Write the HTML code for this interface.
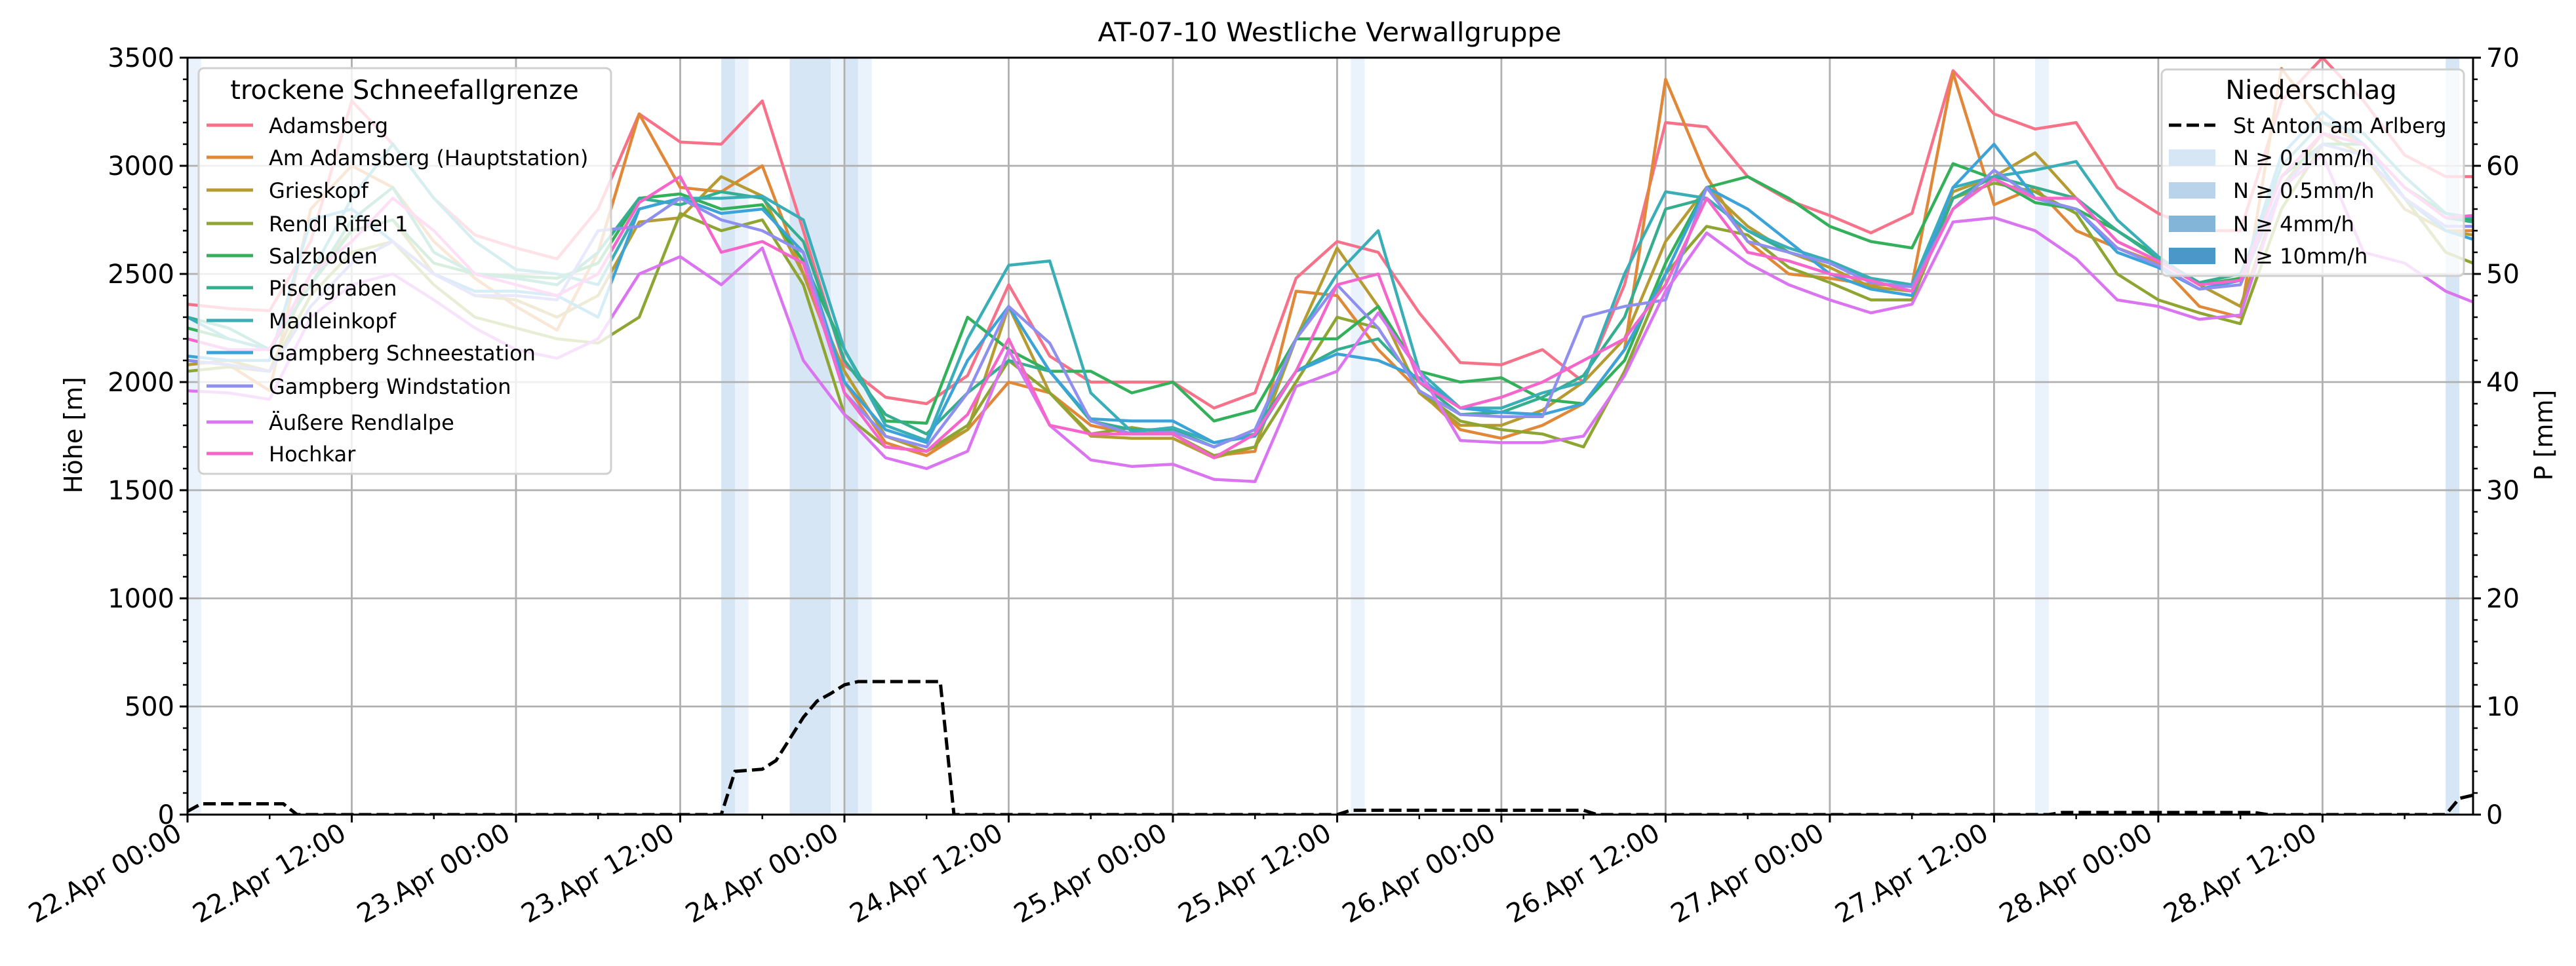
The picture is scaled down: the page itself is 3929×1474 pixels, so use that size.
<!DOCTYPE html>
<html><head><meta charset="utf-8"><style>
html,body{margin:0;padding:0;background:#fff}
svg{display:block;font-family:"DejaVu Sans","Liberation Sans",sans-serif}
</style></head><body>
<svg id="chart" width="3929" height="1474" viewBox="0 0 3929 1474" xmlns="http://www.w3.org/2000/svg">
<defs><clipPath id="plotclip"><rect x="286" y="88" width="3486" height="1155"/></clipPath></defs>
<rect x="0" y="0" width="3929" height="1474" fill="#fff"/>
<g id="bands" clip-path="url(#plotclip)"></g>
<g id="grid"></g>
<g id="series" clip-path="url(#plotclip)"></g>
<g id="precip" clip-path="url(#plotclip)"></g>
<g id="axes"></g>
<g id="legends"></g>
<text x="2028" y="63" font-size="40" text-anchor="middle" textLength="707" lengthAdjust="spacingAndGlyphs">AT-07-10 Westliche Verwallgruppe</text>
<text transform="translate(125,664) rotate(-90)" font-size="38" text-anchor="middle">Höhe [m]</text>
<text transform="translate(3893,664) rotate(-90)" font-size="38" text-anchor="middle">P [mm]</text>
</svg>
<script>
const hours=[0,3,6,9,12,15,18,21,24,27,30,33,36,39,42,45,48,51,54,57,60,63,66,69,72,75,78,81,84,87,90,93,96,99,102,105,108,111,114,117,120,123,126,129,132,135,138,141,144,147,150,153,156,159,162,165,167];
const stationNames=["Adamsberg","Am Adamsberg (Hauptstation)","Grieskopf","Rendl Riffel 1","Salzboden","Pischgraben","Madleinkopf","Gampberg Schneestation","Gampberg Windstation","Äußere Rendlalpe","Hochkar"];
const stationColors=["#f77189","#e08838","#b59b32","#8ea531","#33b05a","#35ad8f","#3aaeb6","#3ba3d8","#8f8ff0","#db74f0","#f565cc"];
const sAdamsberg=[2360,2340,2330,2650,3300,3100,2850,2680,2620,2570,2800,3240,3110,3100,3300,2700,2080,1930,1900,2030,2450,2120,2000,2000,2000,1880,1950,2480,2650,2600,2320,2090,2080,2150,2000,2450,3200,3180,2950,2840,2770,2690,2780,3440,3240,3170,3200,2900,2780,2700,2700,3300,3500,3300,3050,2950,2950];
const sAmAdamsberg=[2100,2080,1960,2800,3000,2900,2650,2480,2350,2240,2600,3240,2900,2880,3000,2500,2000,1720,1660,1780,2000,1950,1800,1760,1760,1660,1680,2420,2400,2150,1960,1780,1740,1800,1900,2150,3400,2950,2650,2500,2480,2450,2450,3430,2820,2900,2700,2620,2550,2350,2300,3450,3200,3100,2850,2700,2700];
const sGrieskopf=[2080,2100,2050,2500,2700,2750,2500,2400,2380,2300,2400,2740,2760,2950,2860,2500,2050,1750,1680,1780,2350,1950,1750,1740,1740,1650,1700,2200,2620,2350,1950,1800,1800,1870,2000,2200,2650,2900,2720,2600,2530,2440,2420,2880,2950,3060,2850,2650,2560,2450,2350,2900,3150,3050,2800,2700,2680];
const sRendlRiffel=[2050,2070,2050,2400,2600,2650,2450,2300,2250,2200,2180,2300,2780,2700,2750,2450,1850,1700,1680,1800,2100,1950,1760,1790,1760,1660,1700,2000,2300,2250,1960,1820,1780,1760,1700,2050,2500,2720,2680,2530,2460,2380,2380,2850,2920,2880,2780,2500,2380,2320,2270,2800,3100,3050,2850,2600,2550];
const sSalzboden=[2250,2200,2150,2450,2700,2750,2550,2500,2490,2480,2550,2850,2870,2800,2820,2560,2150,1820,1810,2300,2150,2050,2050,1950,2000,1820,1870,2200,2200,2350,2050,2000,2020,1920,1900,2100,2550,2900,2950,2850,2720,2650,2620,3010,2940,2830,2800,2700,2580,2450,2480,2950,3100,3100,2900,2780,2750];
const sPischgraben=[2300,2250,2150,2450,2750,2900,2600,2500,2480,2450,2600,2850,2820,2880,2850,2650,2100,1850,1760,1950,2100,2050,1820,1780,1780,1700,1780,2050,2150,2200,2000,1850,1860,1930,2030,2300,2800,2850,2700,2600,2550,2470,2420,2850,2950,2900,2850,2700,2570,2460,2500,2950,3150,3100,2900,2760,2740];
const sMadleinkopf=[2300,2200,2150,2500,2850,3100,2850,2650,2520,2500,2450,2800,2850,2850,2860,2750,2150,1800,1730,2200,2540,2560,1950,1770,1790,1720,1760,2200,2500,2700,2050,1880,1880,1950,2000,2500,2880,2850,2700,2620,2560,2480,2450,2900,2950,2980,3020,2750,2580,2450,2470,3000,3200,3150,2950,2780,2760];
const sGampSchnee=[2120,2100,2100,2750,2800,2650,2500,2420,2420,2400,2300,2800,2850,2780,2800,2600,2000,1780,1720,2100,2350,2050,1830,1820,1820,1720,1750,2050,2130,2100,2020,1880,1860,1850,1900,2150,2500,2900,2800,2650,2500,2430,2400,2900,3100,2850,2800,2600,2530,2430,2470,3050,3250,3100,2850,2700,2660];
const sGampWind=[2100,2080,2050,2350,2550,2650,2500,2400,2400,2380,2700,2720,2850,2750,2700,2600,1950,1750,1700,1950,2350,2180,1820,1760,1770,1700,1780,2200,2450,2250,1960,1850,1840,1840,2300,2350,2380,2900,2650,2600,2550,2460,2440,2800,2980,2850,2800,2620,2540,2430,2450,2900,3100,3050,2850,2720,2720];
const sRendlalpe=[1960,1950,1920,2300,2450,2500,2380,2250,2150,2110,2200,2500,2580,2450,2620,2100,1850,1650,1600,1680,2150,1800,1640,1610,1620,1550,1540,1980,2050,2320,2050,1730,1720,1720,1750,2030,2420,2690,2550,2450,2380,2320,2360,2740,2760,2700,2570,2380,2350,2290,2310,2900,3050,2600,2550,2420,2370];
const sHochkar=[2200,2150,2150,2500,2650,2850,2700,2500,2450,2400,2500,2830,2950,2600,2650,2550,1950,1700,1680,1850,2200,1800,1760,1760,1760,1650,1760,2050,2450,2500,2000,1880,1930,2000,2100,2200,2450,2850,2600,2560,2500,2470,2420,2800,2940,2850,2850,2650,2560,2450,2470,2950,3150,3100,2900,2760,2770];
const stationSeries=[sAdamsberg,sAmAdamsberg,sGrieskopf,sRendlRiffel,sSalzboden,sPischgraben,sMadleinkopf,sGampSchnee,sGampWind,sRendlalpe,sHochkar];
const precipHours=[0,1,7,8,39,40,42,43,44,45,46,47,48,49,55,56,84,85,102,103,136,137,151,152,165,166,167];
const precipVals=[0.3,1,1,0,0,4,4.2,5,7,9,10.5,11.2,12,12.3,12.3,0,0,0.4,0.4,0,0,0.2,0.2,0,0,1.5,1.8];
const bandStart=[0,39,40,44,47,48,49,85,135,165];
const bandEnd=[1,40,41,47,48,49,50,86,136,166];
const bandLevel=[0,1,0,1,0,1,0,0,0,1];
const yTicks=[0,500,1000,1500,2000,2500,3000,3500];
const pTicks=[0,10,20,30,40,50,60,70];
const xTickHours=[0,12,24,36,48,60,72,84,96,108,120,132,144,156];
const xTickLabels=["22.Apr 00:00","22.Apr 12:00","23.Apr 00:00","23.Apr 12:00","24.Apr 00:00","24.Apr 12:00","25.Apr 00:00","25.Apr 12:00","26.Apr 00:00","26.Apr 12:00","27.Apr 00:00","27.Apr 12:00","28.Apr 00:00","28.Apr 12:00"];

const NS="http://www.w3.org/2000/svg";
const L=286,R=3772,T=88,B=1243,XMAX=167;
const xS=h=>L+(R-L)*h/XMAX;
const yS=v=>B-(B-T)*v/3500;
const pS=v=>B-(B-T)*v/70;
function mk(tag,attrs,parent){const e=document.createElementNS(NS,tag);for(const k in attrs)e.setAttribute(k,attrs[k]);parent.appendChild(e);return e;}
const gB=document.getElementById('bands'),gG=document.getElementById('grid'),gS=document.getElementById('series'),gP=document.getElementById('precip'),gA=document.getElementById('axes'),gL=document.getElementById('legends');
const bandCols=["#eaf2fb","#d6e6f4"];
bandStart.forEach((s,i)=>{const r=mk('rect',{x:xS(s),y:T,width:xS(bandEnd[i])-xS(s),height:B-T,fill:bandCols[bandLevel[i]]},gB);

});
xTickHours.forEach(h=>{const l=mk('line',{x1:xS(h),x2:xS(h),y1:T,y2:B,stroke:'#b0b0b0','stroke-width':2.8},gG);

});
yTicks.forEach(v=>{const l=mk('line',{x1:L,x2:R,y1:yS(v),y2:yS(v),stroke:'#b0b0b0','stroke-width':2.8},gG);

});
stationSeries.forEach((arr,i)=>{const d=arr.map((v,j)=>(j?'L':'M')+xS(hours[j]).toFixed(1)+','+yS(v).toFixed(1)).join('');
const p=mk('path',{d:d,fill:'none',stroke:stationColors[i],'stroke-width':4.5,'stroke-linejoin':'round'},gS);

});
{const d=precipVals.map((v,j)=>(j?'L':'M')+xS(precipHours[j]).toFixed(1)+','+pS(v).toFixed(1)).join('');
const p=mk('path',{d:d,fill:'none',stroke:'#000','stroke-width':5,'stroke-dasharray':'19,8'},gP);

}
// axes frame
const fr=mk('rect',{x:L,y:T,width:R-L,height:B-T,fill:'none',stroke:'#000','stroke-width':3},gA);


yTicks.forEach(v=>{mk('line',{x1:L-12,x2:L,y1:yS(v),y2:yS(v),stroke:'#000','stroke-width':3},gA);
const t=mk('text',{x:L-20,y:yS(v)+14,'font-size':40,'text-anchor':'end'},gA);t.textContent=v;

});
for(let v=0;v<=3500;v+=100){if(v%500)mk('line',{x1:L-7,x2:L,y1:yS(v),y2:yS(v),stroke:'#000','stroke-width':2.5},gA);}
pTicks.forEach(v=>{mk('line',{x1:R,x2:R+12,y1:pS(v),y2:pS(v),stroke:'#000','stroke-width':3},gA);
const t=mk('text',{x:R+20,y:pS(v)+14,'font-size':40},gA);t.textContent=v;

});
for(let v=0;v<=70;v+=2){if(v%10)mk('line',{x1:R,x2:R+7,y1:pS(v),y2:pS(v),stroke:'#000','stroke-width':2.5},gA);}
xTickHours.forEach((h,i)=>{mk('line',{x1:xS(h),x2:xS(h),y1:B,y2:B+12,stroke:'#000','stroke-width':3},gA);
const t=mk('text',{transform:'translate('+(xS(h)-6)+','+(B+36)+') rotate(-30)','font-size':40,'text-anchor':'end'},gA);t.textContent=xTickLabels[i];

});
for(let h=6;h<XMAX;h+=12)mk('line',{x1:xS(h),x2:xS(h),y1:B,y2:B+7,stroke:'#000','stroke-width':2.5},gA);
// legend 1
const lg1=mk('g',{},gL);


mk('rect',{x:303,y:104,width:629,height:619,rx:8,fill:'rgba(255,255,255,0.8)',stroke:'#d0d0d0','stroke-width':3},lg1);
{const t=mk('text',{x:617,y:151,'font-size':40,'text-anchor':'middle'},lg1);t.textContent='trockene Schneefallgrenze';}
const ly=[191,240,290,341,390,439,489,538,589,644,692];
stationNames.forEach((n,i)=>{const g=mk('g',{},lg1);


mk('line',{x1:315,x2:386,y1:ly[i],y2:ly[i],stroke:stationColors[i],'stroke-width':5},g);
const t=mk('text',{x:410,y:ly[i]+12,'font-size':32},g);t.textContent=n;});
// legend 2
const lg2=mk('g',{},gL);


mk('rect',{x:3297,y:106,width:461,height:315,rx:8,fill:'rgba(255,255,255,0.8)',stroke:'#d0d0d0','stroke-width':3},lg2);
{const t=mk('text',{x:3525,y:151,'font-size':40,'text-anchor':'middle'},lg2);t.textContent='Niederschlag';}
{const g=mk('g',{},lg2);


mk('line',{x1:3308,x2:3379,y1:191,y2:191,stroke:'#000','stroke-width':5,'stroke-dasharray':'19,8'},g);
const t=mk('text',{x:3406,y:203,'font-size':32},g);t.textContent='St Anton am Arlberg';}
const patchCols=["#d6e6f4","#b9d4ea","#82b5d8","#4b97c9"];
const patchLabels=["N ≥ 0.1mm/h","N ≥ 0.5mm/h","N ≥ 4mm/h","N ≥ 10mm/h"];
const py=[240,290,341,390];
patchLabels.forEach((n,i)=>{const g=mk('g',{},lg2);


mk('rect',{x:3308,y:py[i]-12,width:71,height:25,fill:patchCols[i]},g);
const t=mk('text',{x:3406,y:py[i]+12,'font-size':32},g);t.textContent=n;});
</script>
</body></html>
